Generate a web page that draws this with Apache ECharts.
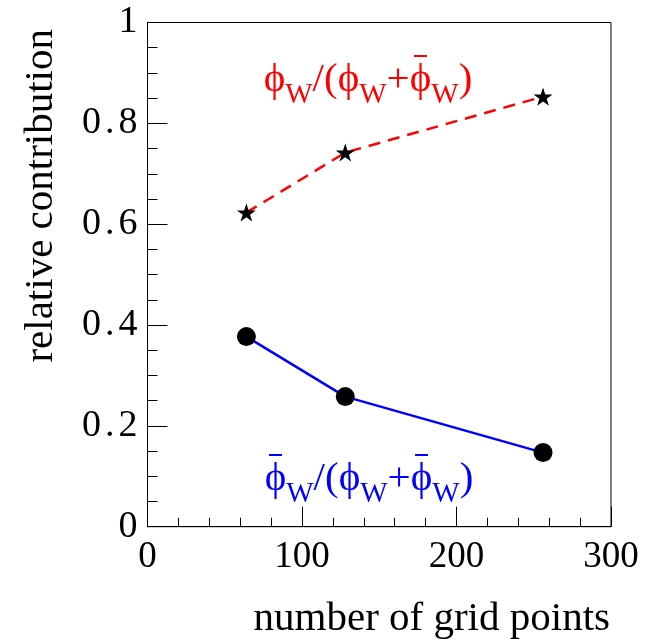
<!DOCTYPE html>
<html>
<head>
<meta charset="utf-8">
<script src="https://cdn.jsdelivr.net/npm/echarts@6/dist/echarts.min.js"></script>
<style>
  html, body { margin: 0; padding: 0; background: #fff; }
  #chart { width: 654px; height: 642px; }
</style>
</head>
<body>
<div id="chart"></div>
<script>
// Number of grid points per run
const gridPoints = [64, 128, 256];
// Fraction carried by phi_W
const phiShare = [0.623, 0.742, 0.853];
// Fraction carried by phi-bar_W
const phiBarShare = [0.377, 0.258, 0.147];

const xTicks = { min: 0, max: 300, interval: 100 };
const yTicks = { min: 0, max: 1, interval: 0.2 };

// Formula pieces: [text, role, overbar]
const phiLabel = [['ϕ', 'm', false], ['W', 's'], ['/(ϕ', 'm'], ['W', 's'], ['+', 'm'], ['ϕ', 'm', true], ['W', 's'], [')', 'm']];
const phiBarLabel = [['ϕ', 'm', true], ['W', 's'], ['/(ϕ', 'm'], ['W', 's'], ['+', 'm'], ['ϕ', 'm', true], ['W', 's'], [')', 'm']];

const FONT = 'Liberation Serif';
const MAIN = 41, SUB = 29;
const STAR = 'path://M50 0 L61.23 34.55 L97.55 34.55 L68.17 55.9 L79.39 90.45 L50 69.1 L20.61 90.45 L31.83 55.9 L2.45 34.55 L38.77 34.55 Z';

function pairs(xs, ys) { return xs.map((x, i) => [x, ys[i]]); }

const measureCtx = document.createElement('canvas').getContext('2d');
function textWidth(t, size) {
  measureCtx.font = size + 'px "' + FONT + '"';
  return measureCtx.measureText(t).width;
}

// Lay out a formula with subscripts and overbars, centred on (cx, cy)
function formula(pieces, cx, cy, color) {
  const widths = pieces.map(p => textWidth(p[0], p[1] === 's' ? SUB : MAIN));
  const total = widths.reduce((a, b) => a + b, 0);
  let x = cx - total / 2;
  const out = [];
  pieces.forEach((p, i) => {
    const sub = p[1] === 's';
    out.push({
      type: 'text', x: x, y: cy + (sub ? 15 : 0),
      style: { text: p[0], fontFamily: FONT, fontSize: sub ? SUB : MAIN, fill: color, align: 'left', verticalAlign: 'middle' }
    });
    if (p[2]) {
      const w = widths[i];
      out.push({
        type: 'line',
        shape: { x1: x + w * 0.2, y1: cy - 24, x2: x + w * 0.8, y2: cy - 24 },
        style: { stroke: color, lineWidth: 2 }
      });
    }
    x += widths[i];
  });
  return out;
}

function tickLabel(v) {
  const s = String(Math.round(v * 10) / 10);
  const k = s.indexOf('.');
  if (k < 0) return '{n|' + s + '}';
  return '{n|' + s.slice(0, k) + '}{d|.}{n|' + s.slice(k + 1) + '}';
}

const chart = echarts.init(document.getElementById('chart'));
chart.setOption({
  animation: false,
  backgroundColor: '#fff',
  grid: {
    left: 147.5, top: 22.5, right: 43, bottom: 115.3,
    show: true, borderColor: '#000', borderWidth: 1, backgroundColor: 'transparent'
  },
  xAxis: {
    type: 'value', min: xTicks.min, max: xTicks.max, interval: xTicks.interval,
    axisLine: { show: true, lineStyle: { color: '#000', width: 1 } },
    axisTick: { show: true, inside: true, length: 20, lineStyle: { color: '#000' } },
    minorTick: { show: true, splitNumber: 5, length: 9, lineStyle: { color: '#000' } },
    splitLine: { show: false },
    axisLabel: { fontFamily: FONT, fontSize: 37, color: '#000', margin: 12 }
  },
  yAxis: {
    type: 'value', min: yTicks.min, max: yTicks.max, interval: yTicks.interval,
    axisLine: { show: true, lineStyle: { color: '#000', width: 1 } },
    axisTick: { show: true, inside: true, length: 20, lineStyle: { color: '#000' } },
    minorTick: { show: true, splitNumber: 4, length: 10, lineStyle: { color: '#000' } },
    splitLine: { show: false },
    axisLabel: {
      color: '#000', margin: 10,
      formatter: tickLabel,
      rich: {
        n: { fontFamily: FONT, fontSize: 38, color: '#000' },
        d: { fontFamily: FONT, fontSize: 38, color: '#000', padding: [0, 4, 0, 4] }
      }
    }
  },
  series: [
    {
      type: 'line', data: pairs(gridPoints, phiShare),
      symbol: STAR, symbolSize: 19, symbolKeepAspect: true,
      itemStyle: { color: '#000' },
      lineStyle: { color: '#ff0000', width: 2.5, type: [12, 8] },
      z: 3
    },
    {
      type: 'line', data: pairs(gridPoints, phiBarShare),
      symbol: 'circle', symbolSize: 19,
      itemStyle: { color: '#000' },
      lineStyle: { color: '#0000ff', width: 2.5 },
      z: 3
    }
  ],
  graphic: [].concat(
    formula(phiLabel, 368, 80, '#ff0000'),
    formula(phiBarLabel, 369, 479, '#0000ff'),
    [
      {
        type: 'text', x: 610, y: 619,
        style: {
          text: 'number of grid points', fontFamily: FONT, fontSize: 41, fill: '#000',
          align: 'right', verticalAlign: 'middle'
        }
      },
      {
        type: 'text', x: 41, y: 29, rotation: Math.PI / 2,
        style: {
          text: 'relative contribution', fontFamily: FONT, fontSize: 41, fill: '#000',
          align: 'right', verticalAlign: 'middle'
        }
      }
    ]
  )
});
</script>
</body>
</html>
